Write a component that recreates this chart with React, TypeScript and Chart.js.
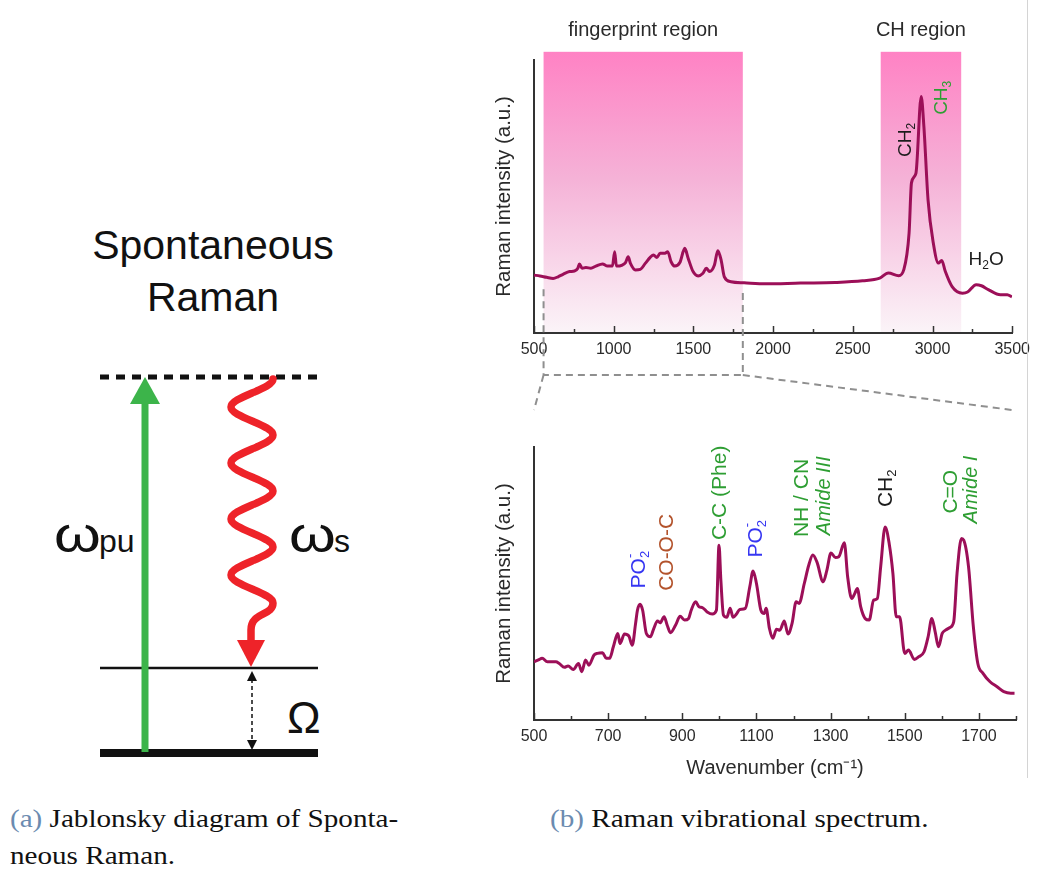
import React, { useEffect, useRef } from "react";
import { Chart, registerables } from "chart.js";

Chart.register(...registerables);

const SANS = "'Liberation Sans', Arial, Helvetica, sans-serif";
const LINE_COLOR = "#9c0f58";
const AXIS_COLOR = "#333333";
const BLUE = "#3636f2";
const GREEN = "#2e9e33";
const BROWN = "#b3532c";
const BLACK = "#1c1c1c";

// Full spectrum, 500–3500 cm^-1 (arbitrary intensity units)
const fullWavenumber = [
  500, 537, 579, 620, 651, 682, 723, 754, 775, 785, 802, 826, 857, 888, 930, 961, 992, 1006, 1017,
  1054, 1074, 1091, 1105, 1136, 1167, 1198, 1229, 1250, 1271, 1291, 1322, 1339, 1360, 1384, 1415,
  1446, 1467, 1498, 1529, 1560, 1581, 1601, 1632, 1653, 1674, 1694, 1736, 1818, 1956, 2172, 2388,
  2561, 2669, 2723, 2788, 2820, 2853, 2868, 2896, 2929, 2946, 2972, 3005, 3037, 3058, 3080, 3123,
  3188, 3220, 3274, 3307, 3350, 3426, 3469, 3498,
];
const fullIntensity = [
  21.2, 20.9, 20.4, 20.0, 20.6, 21.5, 22.5, 22.7, 23.7, 25.3, 23.7, 24.0, 23.7, 24.5, 25.3, 24.5, 24.5, 29.8, 24.5,
  24.9, 25.8, 27.9, 25.5, 23.1, 23.3, 25.5, 27.7, 28.6, 27.7, 29.2, 29.2, 29.8, 26.1, 24.5, 25.8,
  31.0, 27.4, 22.5, 20.9, 21.9, 23.7, 22.5, 24.9, 30.1, 26.7, 20.6, 18.8, 18.4, 18.0, 18.3, 18.5,
  19.1, 20.1, 22.0, 21.0, 23.2, 36.6, 55.0, 58.5, 86.6, 75.6, 48.8, 33.0, 25.6, 26.6, 22.6, 17.0,
  14.6, 15.0, 17.7, 17.3, 15.9, 14.0, 14.0, 13.2,
];

// Fingerprint detail, 500–1800 cm^-1
const fpWavenumber = [
  500, 512, 522, 536, 559, 568, 582, 592, 606, 620, 629, 639, 648, 662, 671, 685, 695, 704, 714, 726,
  732, 744, 756, 765, 774, 779, 786, 793, 803, 814, 823, 833, 840, 851, 859, 868, 882, 894, 906, 917,
  924, 936, 945, 954, 967, 981, 992, 999, 1004, 1011, 1020, 1029, 1037, 1046, 1055, 1070, 1082, 1091,
  1100, 1112, 1121, 1126, 1135, 1144, 1154, 1163, 1175, 1185, 1196, 1207, 1215, 1229, 1241, 1252,
  1263, 1280, 1290, 1301, 1313, 1322, 1337, 1346, 1357, 1365, 1372, 1381, 1393, 1404, 1416, 1426,
  1435, 1447, 1458, 1468, 1477, 1486, 1500, 1510, 1526, 1538, 1552, 1563, 1573, 1582, 1591, 1601,
  1610, 1622, 1632, 1641, 1653, 1659, 1672, 1685, 1697, 1711, 1730, 1749, 1767, 1786, 1796,
];
const fpIntensity = [
  21.3, 22.0, 22.6, 21.3, 21.3, 20.7, 19.3, 19.8, 18.5, 20.7, 17.7, 22.0, 20.1, 23.8, 24.4, 24.6, 22.6, 22.6, 26.8, 31.7,
  28.0, 31.5, 30.7, 27.4, 35.4, 40.2, 42.4, 40.2, 31.7, 30.5, 33.5, 36.3, 35.6, 37.8, 34.8, 32.0, 34.8, 38.0, 36.6, 37.2,
  40.2, 43.3, 41.5, 41.2, 39.6, 38.8, 40.2, 64.0, 51.2, 38.4, 37.6, 40.9, 37.6, 38.8, 40.5, 40.9, 48.8, 54.6,
  50.0, 40.2, 39.0, 40.9, 33.5, 29.9, 33.2, 32.9, 36.3, 31.5, 35.4, 43.3, 42.7, 50.0, 56.7, 60.4,
  57.9, 50.6, 54.9, 61.2, 59.5, 59.8, 64.9, 52.4, 44.5, 46.3, 48.2, 41.5, 37.2, 36.6, 43.9, 44.5,
  56.1, 70.7, 64.6, 53.7, 37.8, 37.8, 24.4, 25.6, 22.2, 23.2, 25.0, 30.5, 37.2, 32.3, 26.8, 31.7,
  32.9, 33.9, 36.0, 53.7, 66.5, 65.9, 56.1, 34.1, 20.7, 17.1, 14.0, 12.2, 10.4, 9.8, 9.8,
];

// Axis ranges and tick spacing
const fullTicks = { min: 500, max: 3500, step: 250, labelEvery: 500 };
const fpTicks = { min: 500, max: 1800, step: 100, labelEvery: 200 };

// Highlighted spectral windows (cm^-1)
const fingerprintRange = [560, 1810];
const chRange = [2675, 3180];
const regionLabels = ["fingerprint region", "CH region"];

type Part = [string, "n" | "sub" | "sup"];
type Note = { x: number; y: number; parts: Part[]; color: string; italic?: boolean; rotate: boolean; size: number };

// Band assignments on the full spectrum
const fullNotes: Note[] = [
  { x: 2833, y: 64.5, parts: [["CH", "n"], ["2", "sub"]], color: BLACK, rotate: true, size: 19 },
  { x: 3058, y: 79.9, parts: [["CH", "n"], ["3", "sub"]], color: GREEN, rotate: true, size: 19 },
  { x: 3226, y: 26.7, parts: [["H", "n"], ["2", "sub"], ["O", "n"]], color: BLACK, rotate: false, size: 19 },
];

// Band assignments on the fingerprint spectrum
const fpNotes: Note[] = [
  { x: 784, y: 48.2, parts: [["PO", "n"], ["2", "sub"], ["-", "sup"]], color: BLUE, rotate: true, size: 21 },
  { x: 859, y: 47.3, parts: [["CO-O-C", "n"]], color: BROWN, rotate: true, size: 21 },
  { x: 1001, y: 65.9, parts: [["C-C (Phe)", "n"]], color: GREEN, rotate: true, size: 21 },
  { x: 1098, y: 59.5, parts: [["PO", "n"], ["2", "sub"], ["-", "sup"]], color: BLUE, rotate: true, size: 21 },
  { x: 1224, y: 67.0, parts: [["NH / CN", "n"]], color: GREEN, rotate: true, size: 21 },
  { x: 1282, y: 67.7, parts: [["Amide III", "n"]], color: GREEN, italic: true, rotate: true, size: 20 },
  { x: 1449, y: 78.0, parts: [["CH", "n"], ["2", "sub"]], color: BLACK, rotate: true, size: 21 },
  { x: 1625, y: 75.6, parts: [["C=O", "n"]], color: GREEN, rotate: true, size: 21 },
  { x: 1681, y: 72.0, parts: [["Amide I", "n"]], color: GREEN, italic: true, rotate: true, size: 20 },
];

function drawRich(ctx: CanvasRenderingContext2D, note: Note, px: number, py: number) {
  const { parts, size, color, italic, rotate } = note;
  ctx.save();
  ctx.translate(px, py);
  if (rotate) ctx.rotate(-Math.PI / 2);
  ctx.fillStyle = color;
  ctx.textBaseline = "middle";
  ctx.textAlign = "left";
  const style = italic ? "italic " : "";
  let cx = 0;
  let lastStart = 0;
  let prev = "n";
  for (const [t, kind] of parts) {
    const s = kind === "n" ? size : Math.round(size * 0.64);
    ctx.font = `${style}${s}px ${SANS}`;
    const stacked = kind === "sup" && prev === "sub";
    const startX = stacked ? lastStart : cx;
    const dy = kind === "sub" ? size * 0.3 : kind === "sup" ? -size * 0.4 : 0;
    ctx.fillText(t, startX, dy);
    const w = ctx.measureText(t).width;
    if (stacked) {
      cx = Math.max(cx, startX + w);
    } else {
      lastStart = startX;
      cx = startX + w;
    }
    prev = kind;
  }
  ctx.restore();
}

function drawInnerTicks(chart: any, labelEvery: number) {
  const { ctx, chartArea } = chart;
  const xs = chart.scales.x;
  ctx.save();
  ctx.strokeStyle = AXIS_COLOR;
  ctx.lineWidth = 1.5;
  for (const t of xs.ticks) {
    const px = Math.round(xs.getPixelForValue(t.value)) + 0.5;
    const major = (t.value - xs.min) % labelEvery === 0;
    const len = major ? 7 : 4;
    ctx.beginPath();
    ctx.moveTo(px, chartArea.bottom);
    ctx.lineTo(px, chartArea.bottom - len);
    ctx.stroke();
  }
  ctx.restore();
}

const fullDecor = {
  id: "fullDecor",
  beforeDraw(chart: any) {
    const { ctx, chartArea } = chart;
    const { x, y } = chart.scales;
    const top = y.getPixelForValue(103);
    const bottom = y.getPixelForValue(0);
    const ranges = [fingerprintRange, chRange];
    ranges.forEach((r, i) => {
      const a = x.getPixelForValue(r[0]);
      const b = x.getPixelForValue(r[1]);
      const g = ctx.createLinearGradient(0, top, 0, bottom);
      g.addColorStop(0, "#ff82c4");
      g.addColorStop(0.45, "#f5b2d7");
      g.addColorStop(1, "#fbf4f8");
      ctx.fillStyle = g;
      ctx.fillRect(a, top, b - a, bottom - top);
      ctx.fillStyle = "#2a2a2a";
      ctx.font = `20px ${SANS}`;
      ctx.textAlign = "center";
      ctx.textBaseline = "middle";
      ctx.fillText(regionLabels[i], (a + b) / 2, chartArea.top - 30);
    });
  },
  afterDraw(chart: any) {
    const { ctx, chartArea } = chart;
    const { x, y } = chart.scales;
    drawInnerTicks(chart, fullTicks.labelEvery);
    for (const n of fullNotes) drawRich(ctx, n, x.getPixelForValue(n.x), y.getPixelForValue(n.y));

    // zoom connector from the fingerprint window to the detail panel below
    const a = x.getPixelForValue(fingerprintRange[0]);
    const b = x.getPixelForValue(fingerprintRange[1]);
    const yStart = y.getPixelForValue(16);
    const yJoin = chartArea.bottom + 42;
    const yEnd = chart.height - 10;
    ctx.save();
    ctx.strokeStyle = "#8f8f8f";
    ctx.lineWidth = 2;
    ctx.setLineDash([7, 5]);
    ctx.beginPath();
    ctx.moveTo(a, yStart);
    ctx.lineTo(a, yJoin);
    ctx.lineTo(b, yJoin);
    ctx.lineTo(b, yStart);
    ctx.moveTo(a, yJoin);
    ctx.lineTo(chartArea.left, yEnd);
    ctx.moveTo(b, yJoin);
    ctx.lineTo(chartArea.right, yEnd);
    ctx.stroke();
    ctx.restore();
  },
};

const fpDecor = {
  id: "fpDecor",
  afterDraw(chart: any) {
    const { ctx } = chart;
    const { x, y } = chart.scales;
    drawInnerTicks(chart, fpTicks.labelEvery);
    for (const n of fpNotes) drawRich(ctx, n, x.getPixelForValue(n.x), y.getPixelForValue(n.y));
  },
};

function makeConfig(
  xs: number[],
  ys: number[],
  ticks: { min: number; max: number; step: number; labelEvery: number },
  opts: { padTop: number; xHeight: number; xTitle?: string },
  plugin: any
): any {
  return {
    type: "line",
    data: {
      datasets: [
        {
          data: xs.map((v, i) => ({ x: v, y: ys[i] })),
          borderColor: LINE_COLOR,
          borderWidth: 3,
          pointRadius: 0,
          cubicInterpolationMode: "monotone",
          fill: false,
        },
      ],
    },
    options: {
      animation: false,
      responsive: false,
      devicePixelRatio: 1,
      layout: { padding: { left: 9, right: 21, top: opts.padTop, bottom: 0 } },
      plugins: { legend: { display: false }, tooltip: { enabled: false } },
      scales: {
        x: {
          type: "linear",
          min: ticks.min,
          max: ticks.max,
          afterFit: (s: any) => {
            s.height = opts.xHeight;
          },
          grid: { display: false, drawTicks: false },
          border: { display: true, color: AXIS_COLOR, width: 2 },
          ticks: {
            stepSize: ticks.step,
            autoSkip: false,
            maxRotation: 0,
            padding: 7,
            color: "#2a2a2a",
            font: { family: SANS, size: 16 },
            callback: (v: number) => ((v - ticks.min) % ticks.labelEvery === 0 ? String(v) : ""),
          },
          title: opts.xTitle
            ? {
                display: true,
                text: opts.xTitle,
                color: "#2a2a2a",
                font: { family: SANS, size: 20 },
                padding: { top: 0, bottom: 20 },
              }
            : { display: false },
        },
        y: {
          min: 0,
          max: 100,
          afterFit: (s: any) => {
            s.width = 45;
          },
          grid: { display: false, drawTicks: false },
          border: { display: true, color: AXIS_COLOR, width: 2 },
          ticks: { display: false },
          title: {
            display: true,
            text: "Raman intensity (a.u.)",
            color: "#2a2a2a",
            font: { family: SANS, size: 20.5 },
            padding: { top: 3, bottom: 0 },
          },
        },
      },
    },
    plugins: [plugin],
  };
}

function SpectrumChart(props: { config: () => any; width: number; height: number; left: number; top: number }) {
  const ref = useRef<HTMLCanvasElement | null>(null);
  useEffect(() => {
    if (!ref.current) return;
    const chart = new Chart(ref.current, props.config());
    return () => chart.destroy();
  }, []);
  return (
    <canvas
      ref={ref}
      width={props.width}
      height={props.height}
      style={{ position: "absolute", left: props.left, top: props.top, width: props.width, height: props.height }}
    />
  );
}

function wavePath(): string {
  const xr = 273;
  const xl = 231;
  const y0 = 379;
  const y1 = 603;
  const n = 8;
  const h = (y1 - y0) / n;
  const k = 0.363;
  let d = `M ${xr} ${y0}`;
  for (let i = 1; i <= n; i++) {
    const ya = y0 + (i - 1) * h;
    const yb = y0 + i * h;
    const xa = i % 2 === 1 ? xr : xl;
    const xb = i % 2 === 1 ? xl : xr;
    d += ` C ${xa} ${ya + k * h} ${xb} ${yb - k * h} ${xb} ${yb}`;
  }
  d += ` C ${xr} 616 251 612 251 630 L 251 643`;
  return d;
}

function Jablonski() {
  const red = "#ee2329";
  const green = "#3cb44a";
  return (
    <svg width={480} height={790} style={{ position: "absolute", left: 0, top: 0 }}>
      <g fontFamily={SANS} fill="#111">
        <text x={213} y={259} fontSize={41} textAnchor="middle">Spontaneous</text>
        <text x={213} y={311} fontSize={41} textAnchor="middle">Raman</text>
      </g>
      <line x1={100} y1={377} x2={318} y2={377} stroke="#111" strokeWidth={5} strokeDasharray="9 7" />
      <line x1={100} y1={668} x2={318} y2={668} stroke="#111" strokeWidth={2.5} />
      <line x1={100} y1={753} x2={318} y2={753} stroke="#111" strokeWidth={8} />
      <line x1={145} y1={752} x2={145} y2={400} stroke={green} strokeWidth={7} />
      <polygon points="145,377 130,404 160,404" fill={green} />
      <path d={wavePath()} stroke={red} strokeWidth={7.5} fill="none" strokeLinecap="round" />
      <polygon points="237,640 265,640 251,667" fill={red} />
      <line x1={252} y1={679} x2={252} y2={742} stroke="#111" strokeWidth={1.5} strokeDasharray="4 3" />
      <polygon points="252,671 247,681 257,681" fill="#111" />
      <polygon points="252,750 247,740 257,740" fill="#111" />
      <g fontFamily={SANS} fill="#111">
        <text transform="translate(54 552) scale(1.2 1)" fontSize={50}>ω</text>
        <text x={99} y={552} fontSize={32}>pu</text>
        <text transform="translate(289 552) scale(1.2 1)" fontSize={50}>ω</text>
        <text x={334} y={552} fontSize={32}>s</text>
        <text x={287} y={733} fontSize={45}>Ω</text>
      </g>
    </svg>
  );
}

const captionStyle: React.CSSProperties = {
  position: "absolute",
  fontFamily: "'Liberation Serif', 'Times New Roman', serif",
  fontSize: 26,
  lineHeight: "37px",
  color: "#111",
  whiteSpace: "nowrap",
  transform: "scaleX(1.12)",
  transformOrigin: "left top",
};

export default function App() {
  return (
    <div style={{ position: "absolute", left: 0, top: 0, width: 1037, height: 871, background: "#fff", overflow: "hidden" }}>
      <Jablonski />
      <SpectrumChart
        left={480}
        top={0}
        width={557}
        height={420}
        config={() =>
          makeConfig(fullWavenumber, fullIntensity, fullTicks, { padTop: 60, xHeight: 87 }, fullDecor)
        }
      />
      <SpectrumChart
        left={480}
        top={420}
        width={557}
        height={380}
        config={() =>
          makeConfig(fpWavenumber, fpIntensity, fpTicks, { padTop: 27, xHeight: 80, xTitle: "Wavenumber (cm⁻¹)" }, fpDecor)
        }
      />
      <div style={{ position: "absolute", left: 1027, top: 0, width: 1, height: 778, background: "#d4d4d4" }} />
      <div style={{ ...captionStyle, left: 10, top: 800 }}>
        <span style={{ color: "#6b8bb0" }}>(a)</span> Jablonsky diagram of Sponta-
        <br />
        neous Raman.
      </div>
      <div style={{ ...captionStyle, left: 550, top: 800 }}>
        <span style={{ color: "#6b8bb0" }}>(b)</span> Raman vibrational spectrum.
      </div>
    </div>
  );
}
